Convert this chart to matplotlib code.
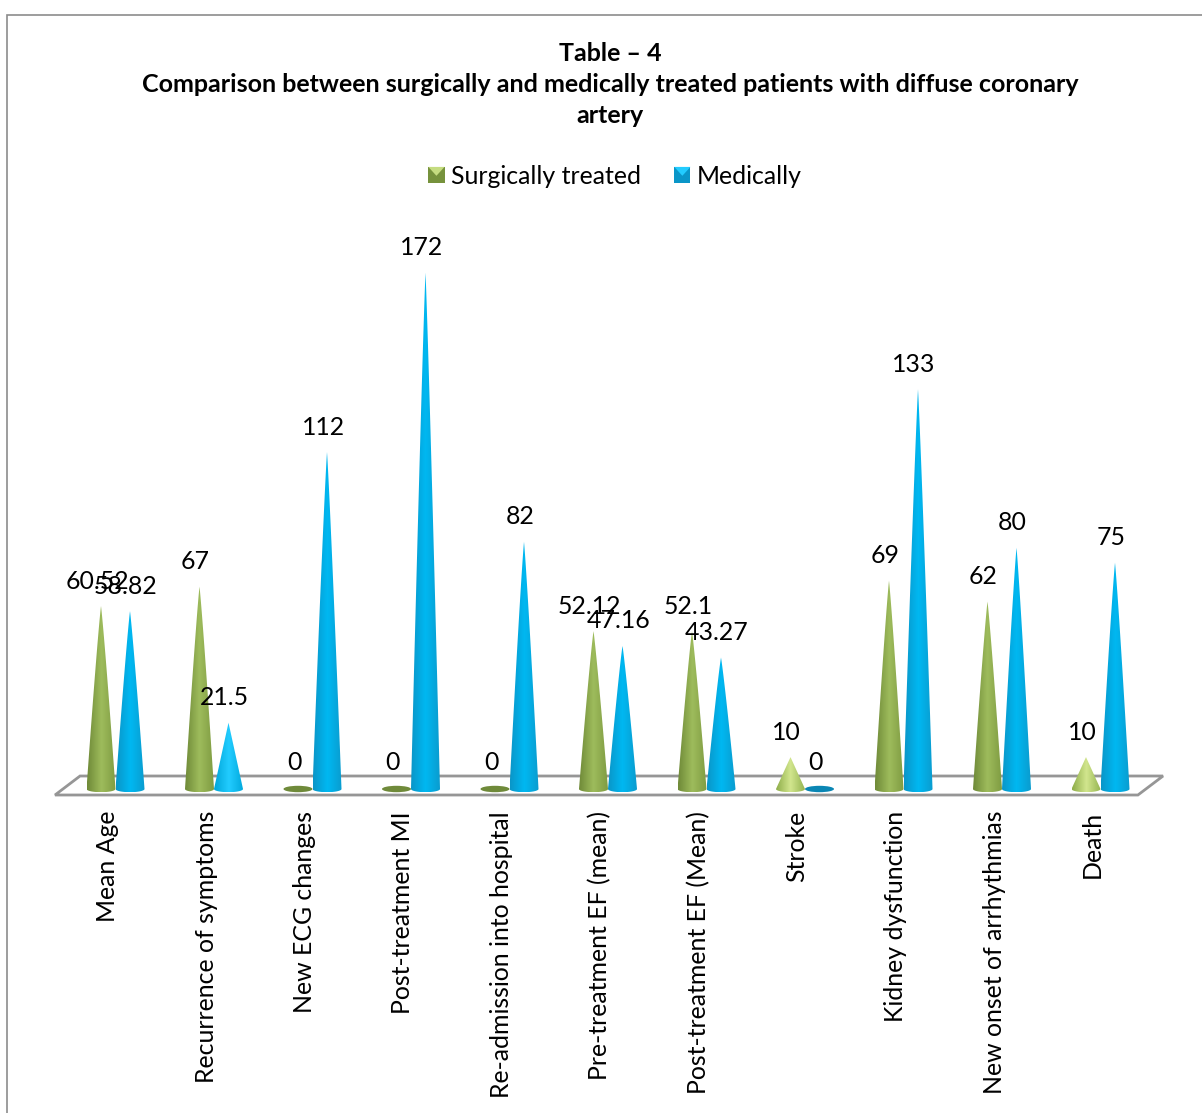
import numpy as np
import matplotlib
matplotlib.use("Agg")
import matplotlib.pyplot as plt
from matplotlib.patches import Polygon, Rectangle, Ellipse
from matplotlib.legend_handler import HandlerBase
from matplotlib.colors import LinearSegmentedColormap

categories = ["Mean Age", "Recurrence of symptoms", "New ECG changes", "Post-treatment MI",
              "Re-admission into hospital", "Pre-treatment EF (mean)", "Post-treatment EF (Mean)",
              "Stroke", "Kidney dysfunction", "New onset of arrhythmias", "Death"]
surgical = [60.52, 67, 0, 0, 0, 52.12, 52.1, 10, 69, 62, 10]
medical = [58.82, 21.5, 112, 172, 82, 47.16, 43.27, 0, 133, 80, 75]
surgical_labels = ["60.52", "67", "0", "0", "0", "52.12", "52.1", "10", "69", "62", "10"]
medical_labels = ["58.82", "21.5", "112", "172", "82", "47.16", "43.27", "0", "133", "80", "75"]
series_names = ["Surgically treated", "Medically"]
title_lines = "Table \u2013 4\nComparison between surgically and medically treated patients with diffuse coronary\nartery"

W, H = 1202, 1113
FS = 17.9
plt.rcParams['font.family'] = ['Lato', 'DejaVu Sans']
fig = plt.figure(figsize=(W / 100, H / 100), dpi=100, facecolor="white")

# pixel geometry of the plot box
px_cat0, px_step = 115.5, 98.5
px_base, px_unit = 787.0, 2.99
y_min = -12.0
left = px_cat0 - 0.5 * px_step
right = px_cat0 + 10.5 * px_step
ax = fig.add_axes([left / W, 1 - (px_base - y_min * px_unit) / H, (right - left) / W,
                   (172 - y_min) * px_unit / H])
dx_u = 1 / px_step
dy_u = 1 / px_unit
ax.axis("off")

# outer frame
fig.add_artist(Rectangle((7 / W, -0.02), (W + 20 - 7) / W, 1.02 - 15 / H, transform=fig.transFigure,
                         fill=False, ec="#8c8c8c", lw=1.2))

# floor
floor = Polygon([(-0.614, -8 * dy_u), (10.38, -8 * dy_u), (10.635, 11 * dy_u), (-0.36, 11 * dy_u)],
                closed=True, fc="white", ec="#969696", lw=2.0, clip_on=False, zorder=1)
ax.add_patch(floor)

GREEN = (["#6f8a38", "#9ebc5c", "#7f9c42"], ["#8fae4a", "#d2e68e", "#96b552"], "#6f8a3a")
BLUE = (["#0a96c8", "#00b8f2", "#0a9ccf"], ["#00a6d8", "#22ccff", "#00a8dc"], "#0a86b4")


def cone(x, v, colours, z):
    hw = 14.5 * dx_u
    eh = 3.2 * dy_u
    y0 = -2 * dy_u
    if v == 0:
        ax.add_patch(Ellipse((x, y0), 2 * hw, 2 * eh, fc=colours[2], ec="none", zorder=z))
        return
    p = 1.0 if v < 30 else 0.9
    t = np.linspace(0, 1, 80)
    xs = hw * (1 - t) ** p
    th = np.linspace(2 * np.pi, np.pi, 40)
    ys = y0 + (v - y0) * t
    verts = np.vstack([
        np.c_[x - xs, ys],
        np.c_[x + xs[::-1], ys[::-1]],
        np.c_[x + hw * np.cos(th), y0 + eh * np.sin(th)],
    ])
    poly = Polygon(verts, closed=True, fc="none", ec="none")
    ax.add_patch(poly)
    cols = colours[1] if v < 30 else colours[0]
    cmap = LinearSegmentedColormap.from_list("c", cols)
    im = ax.imshow(np.linspace(0, 1, 64)[None, :], cmap=cmap, extent=(x - hw, x + hw, y0 - eh, v),
                   aspect="auto", zorder=z, origin="lower", interpolation="bilinear")
    im.set_clip_path(poly)


for i, (s, m) in enumerate(zip(surgical, medical)):
    xs = i - 14.5 * dx_u
    xm = i + 14.5 * dx_u
    cone(xs, s, GREEN, 3)
    cone(xm, m, BLUE, 4)
    ax.text(xs - 4 * dx_u, s + 25 * dy_u, surgical_labels[i], ha="center", va="center",
            fontsize=FS, color="black", zorder=6, clip_on=False)
    ax.text(xm - 4 * dx_u, m + 25 * dy_u, medical_labels[i], ha="center", va="center",
            fontsize=FS, color="black", zorder=6, clip_on=False)
    ax.text(i - 8 * dx_u, -24 * dy_u, categories[i], rotation=90, ha="center", va="top",
            fontsize=FS, color="black", clip_on=False, zorder=6)

ax.set_xlim(-0.5, 10.5)
ax.set_ylim(y_min, 172)

fig.text(610 / W, 1 - 84.5 / H, title_lines, ha="center", va="center", fontsize=18, fontweight="bold",
         linespacing=1.44, color="black")


class SquareHandler(HandlerBase):
    def create_artists(self, legend, orig, xd, yd, w, h, fs, trans):
        c = orig.get_facecolor()
        s = min(w, h)
        base = Rectangle((-xd, -yd), s, s, fc=orig.get_edgecolor(), ec="none", transform=trans)
        tri = Polygon([(-xd, s - yd), (-xd + s, s - yd), (-xd + s / 2, s * 0.45 - yd)], closed=True,
                      fc=c, ec="none", transform=trans)
        return [base, tri]


handles = [Rectangle((0, 0), 1, 1, fc="#c5dc80", ec="#76923c"),
           Rectangle((0, 0), 1, 1, fc="#22ccff", ec="#0a96c8")]
fig.legend(handles, series_names, handler_map={Rectangle: SquareHandler()}, loc="center",
           bbox_to_anchor=(615 / W, 1 - 176 / H), ncol=2, frameon=False, fontsize=FS,
           handlelength=0.65, handleheight=0.65, handletextpad=0.25, columnspacing=1.35)

fig.savefig("out.png", dpi=100)
